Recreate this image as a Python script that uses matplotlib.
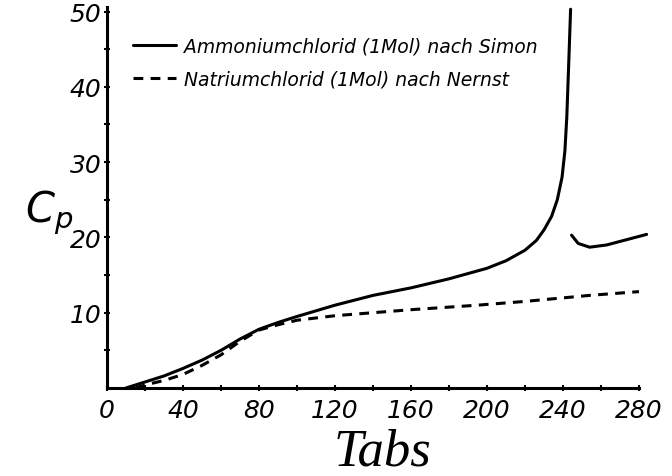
import numpy as np
import matplotlib
matplotlib.use("Agg")
import matplotlib.pyplot as plt

# Ammoniumchlorid (Simon), Teil unterhalb des Umwandlungspunktes
nh4_T = [10, 20, 30, 40, 50, 60, 70, 80, 90, 100, 120, 140, 160, 180, 200,
         210, 220, 226, 230, 234, 237, 239.5, 241, 242, 243, 244]
nh4_C = [0, 0.8, 1.6, 2.6, 3.7, 5.0, 6.5, 7.8, 8.7, 9.5, 11.0, 12.3, 13.3, 14.5, 15.9,
         16.9, 18.3, 19.6, 21.0, 22.8, 25.0, 28.0, 31.5, 36.0, 43.0, 50.3]
# oberhalb des Umwandlungspunktes
nh4_T2 = [244.5, 248, 254, 263, 275, 284]
nh4_C2 = [20.3, 19.2, 18.7, 19.0, 19.8, 20.4]

# Natriumchlorid (Nernst)
nacl_T = [15, 20, 30, 40, 50, 60, 70, 80, 90, 100, 120, 140, 160, 195, 220, 254, 280]
nacl_C = [0, 0.4, 1.0, 1.8, 3.0, 4.4, 6.2, 7.7, 8.4, 9.0, 9.6, 10.0, 10.4, 11.0, 11.5, 12.3, 12.8]

x_labels = [0, 40, 80, 120, 160, 200, 240, 280]
y_labels = [10, 20, 30, 40, 50]

lbl_nh4 = "Ammoniumchlorid (1Mol) nach Simon"
lbl_nacl = "Natriumchlorid (1Mol) nach Nernst"

fig = plt.figure(figsize=(6.72, 4.77), dpi=100)
ax = fig.add_axes([107 / 672, 1 - 389 / 477, 551 / 672, 384 / 477])

lw = 2.2
ax.plot(nh4_T, nh4_C, color="black", lw=lw, solid_capstyle="round",
        solid_joinstyle="round", label=lbl_nh4)
ax.plot(nh4_T2, nh4_C2, color="black", lw=lw, solid_capstyle="round",
        solid_joinstyle="round")
ax.plot(nacl_T, nacl_C, color="black", lw=lw, linestyle=(0, (3.2, 2.4)), label=lbl_nacl)

ax.set_xlim(0, 290)
ax.set_ylim(0, 51)

for s in ["top", "right"]:
    ax.spines[s].set_visible(False)
ax.spines["left"].set_bounds(0, 50.6)
ax.spines["bottom"].set_bounds(0, 280)
ax.spines["left"].set_linewidth(2.2)
ax.spines["bottom"].set_linewidth(2.2)

ax.set_xticks(x_labels)
ax.set_xticks(np.arange(20, 281, 40), minor=True)
ax.set_yticks(y_labels)
ax.set_yticks(np.arange(5, 50, 10), minor=True)
ax.tick_params(which="both", direction="inout", length=4, width=1.5)
ax.tick_params(axis="x", pad=5)
ax.tick_params(axis="y", pad=2)
for t in ax.get_xticklabels() + ax.get_yticklabels():
    t.set_fontsize(18)
    t.set_fontstyle("italic")

ax.set_ylabel("$C_p$", rotation=0, fontsize=30, va="center", ha="center")
ax.yaxis.set_label_coords(-0.105, 0.46)
ax.set_xlabel("Tabs", fontsize=38, family=["Liberation Serif", "DejaVu Serif"],
              style="italic", labelpad=4)

leg = ax.legend(loc="upper left", bbox_to_anchor=(0.03, 0.94), frameon=False,
                handlelength=2.3, handletextpad=0.4, labelspacing=0.75, borderpad=0,
                prop={"family": "DejaVu Sans", "style": "italic", "size": 13.5})

fig.savefig("out.png", dpi=100)
